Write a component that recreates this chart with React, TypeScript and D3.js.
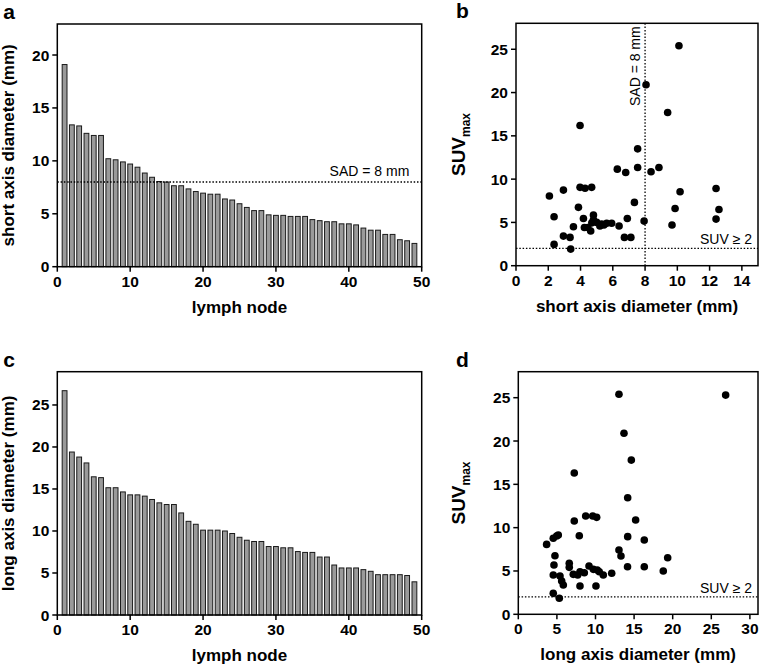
import React from 'react';
import * as d3 from 'd3';

// Panel a: short axis diameter (mm) per lymph node, sorted
const shortAxisBars = [19.1, 13.4, 13.3, 12.6, 12.4, 12.4, 10.2, 10.1, 9.9, 9.7, 9.4, 8.85, 8.45, 8.05, 8.0, 7.65, 7.65, 7.35, 7.1, 6.95, 6.85, 6.85, 6.4, 6.3, 5.95, 5.6, 5.3, 5.3, 4.9, 4.85, 4.85, 4.75, 4.75, 4.75, 4.45, 4.35, 4.25, 4.25, 4.05, 4.05, 3.95, 3.65, 3.45, 3.45, 3.05, 3.05, 2.55, 2.45, 2.2];
// Panel c: long axis diameter (mm) per lymph node, sorted
const longAxisBars = [26.7, 19.4, 18.8, 18.1, 16.45, 16.35, 15.15, 15.15, 14.65, 14.3, 14.3, 14.15, 13.75, 13.35, 13.15, 13.15, 12.15, 11.15, 10.8, 10.1, 10.1, 10.1, 10.0, 9.7, 9.25, 8.9, 8.75, 8.75, 8.15, 8.15, 8.0, 8.0, 7.55, 7.45, 7.45, 6.9, 6.9, 5.95, 5.6, 5.6, 5.6, 5.4, 5.2, 4.8, 4.8, 4.8, 4.8, 4.7, 3.95];

// Panel b: [short axis diameter, SUVmax]
const shortVsSuv: [number, number][] = [
  [2.07, 8.05], [2.94, 8.73], [3.97, 9.05], [4.28, 8.95], [4.69, 9.05],
  [3.87, 6.74], [2.36, 5.65], [4.18, 5.46], [4.8, 5.85], [4.8, 5.3], [4.7, 4.95],
  [3.56, 4.5], [4.24, 4.42], [4.45, 4.42], [4.63, 4.0],
  [5.31, 4.8], [5.62, 4.9], [5.93, 4.9], [5.2, 4.6], [6.39, 4.58], [5.0, 5.0], [5.45, 4.7],
  [6.9, 5.46], [7.34, 7.31], [7.94, 5.15], [6.72, 3.27], [7.12, 3.27],
  [2.94, 3.42], [3.35, 3.27], [2.36, 2.46], [3.39, 1.92],
  [3.97, 16.2], [8.06, 20.9], [10.1, 25.4], [9.4, 17.7], [7.54, 13.5],
  [6.28, 11.15], [6.8, 10.77], [7.54, 11.35], [8.37, 10.85], [8.86, 11.35],
  [9.86, 6.6], [9.67, 4.7], [10.17, 8.54], [12.4, 8.92], [12.58, 6.5], [12.4, 5.38],
];

// Panel d: [long axis diameter, SUVmax]
const longVsSuv: [number, number][] = [
  [3.67, 8.07], [4.53, 8.77], [4.97, 9.03], [5.18, 9.15], [4.75, 6.76], [4.62, 5.69],
  [4.53, 4.53], [5.4, 4.42], [5.62, 3.84], [5.83, 3.38], [4.53, 2.42], [5.31, 1.85],
  [6.6, 5.88], [6.6, 5.42], [7.25, 10.76], [7.9, 9.07], [8.73, 11.34], [9.64, 11.34], [10.15, 11.19],
  [7.12, 4.61], [7.69, 4.53], [7.99, 4.91], [8.55, 4.8], [9.16, 5.57], [9.72, 5.19],
  [10.23, 5.11], [10.49, 4.91], [11.01, 4.53], [7.99, 3.27], [10.06, 3.27], [12.1, 4.73],
  [13.04, 7.42], [13.3, 6.73], [14.17, 13.45], [14.17, 8.96], [14.15, 5.49], [15.2, 10.88],
  [16.32, 8.57], [16.32, 5.49], [18.78, 5.0], [19.35, 6.53],
  [13.04, 25.4], [26.86, 25.3], [13.69, 20.9], [14.64, 17.8], [7.25, 16.3],
];

const barXTicks = [0, 10, 20, 30, 40, 50];
const shortBarYTicks = [0, 5, 10, 15, 20];
const longBarYTicks = [0, 5, 10, 15, 20, 25];
const suvYTicks = [0, 5, 10, 15, 20, 25];
const shortScatterXTicks = [0, 2, 4, 6, 8, 10, 12, 14];
const longScatterXTicks = [0, 5, 10, 15, 20, 25, 30];

const sadThreshold = 8;
const suvThreshold = 2;

const FONT = '"Liberation Sans", Arial, sans-serif';

type Box = { left: number; right: number; top: number; bottom: number };

function Frame({ box, x, y, xTicks, yTicks }: { box: Box; x: d3.ScaleLinear<number, number>; y: d3.ScaleLinear<number, number>; xTicks: number[]; yTicks: number[] }) {
  return (
    <g>
      <rect x={box.left} y={box.top} width={box.right - box.left} height={box.bottom - box.top} fill="none" stroke="#000" strokeWidth={1.5} />
      {xTicks.map((t) => (
        <g key={'x' + t}>
          <line x1={x(t)} x2={x(t)} y1={box.bottom} y2={box.bottom + 5} stroke="#000" strokeWidth={1.5} />
          <text x={x(t)} y={box.bottom + 20} textAnchor="middle" fontFamily={FONT} fontWeight="bold" fontSize={15.5}>{t}</text>
        </g>
      ))}
      {yTicks.map((t) => (
        <g key={'y' + t}>
          <line x1={box.left - 5} x2={box.left} y1={y(t)} y2={y(t)} stroke="#000" strokeWidth={1.5} />
          <text x={box.left - 8} y={y(t) + 5.5} textAnchor="end" fontFamily={FONT} fontWeight="bold" fontSize={15.5}>{t}</text>
        </g>
      ))}
    </g>
  );
}

function BarPanel({ box, values, yMax, yTicks, yTitle, letter }: { box: Box; values: number[]; yMax: number; yTicks: number[]; yTitle: string; letter: string }) {
  const x = d3.scaleLinear().domain([0, 50]).range([box.left, box.right]);
  const y = d3.scaleLinear().domain([0, yMax]).range([box.bottom, box.top]);
  const bw = (x(1) - x(0)) * 0.66;
  return (
    <g>
      {values.map((v, i) => (
        <rect key={i} x={x(i + 1) - bw / 2} y={y(v)} width={bw} height={y(0) - y(v)} fill="#9a9a9a" stroke="#1a1a1a" strokeWidth={1} />
      ))}
      <Frame box={box} x={x} y={y} xTicks={barXTicks} yTicks={yTicks} />
      <text x={box.left - 54} y={box.top - 5} fontFamily={FONT} fontWeight="bold" fontSize={21}>{letter}</text>
      <text transform={`translate(${14},${(box.top + box.bottom) / 2}) rotate(-90)`} textAnchor="middle" fontFamily={FONT} fontWeight="bold" fontSize={17}>{yTitle}</text>
      <text x={(box.left + box.right) / 2} y={box.bottom + 46} textAnchor="middle" fontFamily={FONT} fontWeight="bold" fontSize={17}>lymph node</text>
    </g>
  );
}

function ScatterPanel({ box, points, xMax, xTicks, xTitle, letter, showSad }: { box: Box; points: [number, number][]; xMax: number; xTicks: number[]; xTitle: string; letter: string; showSad: boolean }) {
  const x = d3.scaleLinear().domain([0, xMax]).range([box.left, box.right]);
  const y = d3.scaleLinear().domain([0, 28]).range([box.bottom, box.top]);
  return (
    <g>
      <line x1={box.left} x2={box.right} y1={y(suvThreshold)} y2={y(suvThreshold)} stroke="#000" strokeWidth={1.3} strokeDasharray="1.5,1.8" />
      <text x={box.right - 6} y={y(suvThreshold) - 4} textAnchor="end" fontFamily={FONT} fontSize={14}>SUV ≥ 2</text>
      {showSad && (
        <g>
          <line x1={x(sadThreshold)} x2={x(sadThreshold)} y1={box.top} y2={box.bottom} stroke="#000" strokeWidth={1.3} strokeDasharray="1.5,1.8" />
          <text transform={`translate(${x(sadThreshold) - 5},${box.top + 3}) rotate(-90)`} textAnchor="end" fontFamily={FONT} fontSize={14}>SAD = 8 mm</text>
        </g>
      )}
      {points.map((p, i) => (
        <circle key={i} cx={x(p[0])} cy={y(p[1])} r={3.8} fill="#000" />
      ))}
      <Frame box={box} x={x} y={y} xTicks={xTicks} yTicks={suvYTicks} />
      <text x={456} y={box.top - 5} fontFamily={FONT} fontWeight="bold" fontSize={21}>{letter}</text>
      <text transform={`translate(${465},${(box.top + box.bottom) / 2}) rotate(-90)`} textAnchor="middle" fontFamily={FONT} fontWeight="bold" fontSize={19}>
        SUV<tspan fontSize={12} dy={5}>max</tspan>
      </text>
      <text x={(box.left + box.right) / 2} y={box.bottom + 46} textAnchor="middle" fontFamily={FONT} fontWeight="bold" fontSize={17}>{xTitle}</text>
    </g>
  );
}

export default function App() {
  const boxA: Box = { left: 57.3, right: 421.7, top: 24, bottom: 266.7 };
  const boxB: Box = { left: 516, right: 758, top: 23.3, bottom: 265.7 };
  const boxC: Box = { left: 57.3, right: 421.7, top: 371.7, bottom: 615 };
  const boxD: Box = { left: 518.3, right: 758, top: 371.7, bottom: 614.3 };
  const xA = d3.scaleLinear().domain([0, 50]).range([boxA.left, boxA.right]);
  const yA = d3.scaleLinear().domain([0, 22.93]).range([boxA.bottom, boxA.top]);
  return (
    <svg width={761} height={672} style={{ position: 'absolute', left: 0, top: 0, background: '#fff' }}>
      <rect width={761} height={672} fill="#fff" />
      <BarPanel box={boxA} values={shortAxisBars} yMax={22.93} yTicks={shortBarYTicks} yTitle="short axis diameter (mm)" letter="a" />
      <line x1={boxA.left} x2={boxA.right} y1={yA(sadThreshold)} y2={yA(sadThreshold)} stroke="#000" strokeWidth={1.3} strokeDasharray="1.5,1.8" />
      <text x={xA(48.3)} y={yA(sadThreshold) - 6} textAnchor="end" fontFamily={FONT} fontSize={14}>SAD = 8 mm</text>
      <ScatterPanel box={boxB} points={shortVsSuv} xMax={15} xTicks={shortScatterXTicks} xTitle="short axis diameter (mm)" letter="b" showSad={true} />
      <BarPanel box={boxC} values={longAxisBars} yMax={28.96} yTicks={longBarYTicks} yTitle="long axis diameter (mm)" letter="c" />
      <ScatterPanel box={boxD} points={longVsSuv} xMax={31.05} xTicks={longScatterXTicks} xTitle="long axis diameter (mm)" letter="d" showSad={false} />
    </svg>
  );
}
